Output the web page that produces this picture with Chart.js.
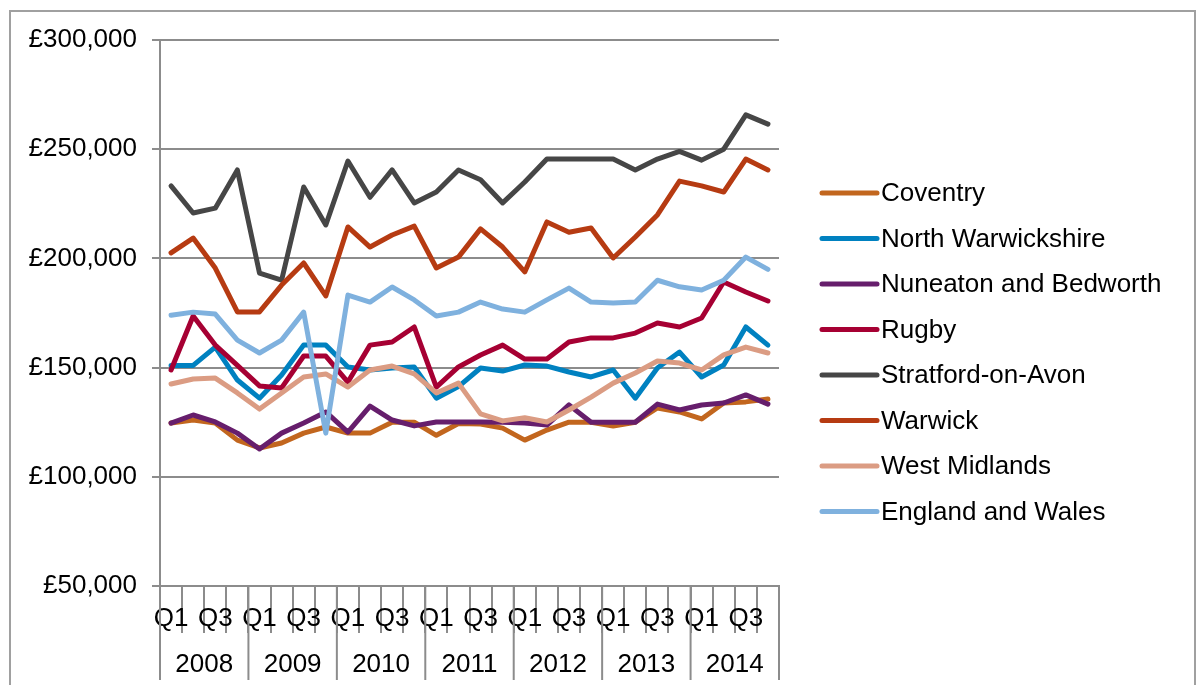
<!DOCTYPE html>
<html>
<head>
<meta charset="utf-8">
<script src="https://cdn.jsdelivr.net/npm/chart.js@4.4.0/dist/chart.umd.min.js"></script>
<style>
  body { margin: 0; background: #fff; }
  #frame {
    position: absolute;
    left: 9px;
    top: 10px;
    width: 1183px;
    height: 700px;
    border: 2px solid #a0a0a0;
  }
  #chart { position: absolute; left: 0; top: 0; }
</style>
</head>
<body>
<div id="frame"></div>
<canvas id="chart" width="1199" height="685"></canvas>
<script>
const quarters = [
  'Q1', 'Q2', 'Q3', 'Q4', 'Q1', 'Q2', 'Q3', 'Q4', 'Q1', 'Q2', 'Q3', 'Q4', 'Q1', 'Q2',
  'Q3', 'Q4', 'Q1', 'Q2', 'Q3', 'Q4', 'Q1', 'Q2', 'Q3', 'Q4', 'Q1', 'Q2', 'Q3', 'Q4',
];
const years = ['2008', '2009', '2010', '2011', '2012', '2013', '2014'];

const seriesNames = [
  'Coventry', 'North Warwickshire', 'Nuneaton and Bedworth', 'Rugby',
  'Stratford-on-Avon', 'Warwick', 'West Midlands', 'England and Wales',
];

const coventry = [124600, 126000, 124600, 116800, 113200, 115500, 120000, 122800, 120000, 120000, 125000, 125000, 119000, 124400,
  124200, 122300, 116800, 121400, 125000, 125000, 123300, 125000, 131500, 129700, 126500, 133800, 134300, 135600];
const northWarwickshire = [151000, 151000, 159400, 144300, 136000, 146600, 160300, 160300, 150300, 148900, 149800, 150300, 136000, 141300,
  149800, 148400, 151200, 150700, 148000, 145700, 148900, 136000, 149800, 157100, 145700, 151200, 168600, 160300];
const nuneaton = [124600, 128300, 125100, 120000, 112700, 120000, 124600, 129700, 120500, 132400, 126000, 123300, 125100, 125100,
  125100, 125000, 124600, 123700, 132900, 125000, 125000, 125000, 133300, 130600, 132900, 133800, 137500, 133300];
const rugby = [148900, 173600, 160300, 151000, 141600, 140700, 155300, 155300, 143400, 160300, 161700, 168600, 141100, 150300,
  155800, 160300, 153900, 153900, 161700, 163600, 163600, 165800, 170400, 168600, 172700, 189200, 184600, 180500];
const stratford = [233200, 220800, 223000, 240500, 193300, 190000, 232700, 215300, 244600, 228000, 240500, 225400, 230400, 240500,
  236000, 225400, 235000, 245500, 245500, 245500, 245500, 240500, 245500, 249000, 245000, 250000, 265700, 261500];
const warwick = [202500, 209300, 195600, 175500, 175500, 187800, 197900, 182800, 214400, 205200, 210700, 214800, 195600, 200600,
  213500, 205200, 193800, 216700, 212000, 213900, 200200, 209800, 219900, 235400, 233200, 230400, 245500, 240500];
const westMidlands = [142500, 144800, 145200, 138400, 131000, 138400, 145700, 147100, 141100, 148900, 150700, 147100, 138400, 142900,
  128800, 125600, 127000, 125100, 130600, 136500, 142900, 147500, 153000, 152100, 148900, 155800, 159400, 156700];
const englandWales = [174000, 175400, 174500, 162600, 156700, 162600, 175400, 120000, 183200, 180000, 186900, 181000, 173600, 175400,
  180000, 176800, 175400, 181000, 186400, 180000, 179600, 180000, 190000, 187000, 185500, 190000, 200600, 195000];

const seriesValues = [coventry, northWarwickshire, nuneaton, rugby, stratford, warwick, westMidlands, englandWales];
const seriesColors = ['#c2661e', '#0081c0', '#661e6c', '#a60033', '#464646', '#b63b12', '#db9c83', '#7fb1de'];

const FONT = { family: '"Liberation Sans", Arial, sans-serif', size: 26 };
const GRID = '#8c8c8c';

// year row under the quarter labels, with the long separators
const yearRow = {
  id: 'yearRow',
  afterDraw(chart) {
    const ctx = chart.ctx;
    const xs = chart.scales.x;
    const step = (xs.right - xs.left) / quarters.length;
    const top = chart.chartArea.bottom;
    ctx.save();
    ctx.strokeStyle = GRID;
    ctx.lineWidth = 2;
    for (let k = 0; k <= years.length; k++) {
      const x = xs.left + k * 4 * step;
      ctx.beginPath();
      ctx.moveTo(x, top);
      ctx.lineTo(x, top + 94);
      ctx.stroke();
    }
    ctx.fillStyle = '#000';
    ctx.font = `${FONT.size}px ${FONT.family}`;
    ctx.textAlign = 'center';
    ctx.textBaseline = 'middle';
    years.forEach((y, k) => {
      ctx.fillText(y, xs.left + (k * 4 + 2) * step, top + 79);
    });
    ctx.restore();
  },
};

// legend on the right, line samples like Excel
const sideLegend = {
  id: 'sideLegend',
  afterDraw(chart) {
    const ctx = chart.ctx;
    const x0 = chart.chartArea.right + 43;
    ctx.save();
    ctx.font = `${FONT.size}px ${FONT.family}`;
    ctx.textBaseline = 'middle';
    ctx.lineCap = 'round';
    ctx.lineWidth = 5;
    chart.data.datasets.forEach((ds, i) => {
      const y = 193 + i * 45.5;
      ctx.strokeStyle = ds.borderColor;
      ctx.beginPath();
      ctx.moveTo(x0, y);
      ctx.lineTo(x0 + 55, y);
      ctx.stroke();
      ctx.fillStyle = '#000';
      ctx.fillText(ds.label, x0 + 59, y + 1);
    });
    ctx.restore();
  },
};

new Chart(document.getElementById('chart'), {
  type: 'line',
  data: {
    labels: quarters,
    datasets: seriesNames.map((name, i) => ({
      label: name,
      data: seriesValues[i],
      borderColor: seriesColors[i],
      backgroundColor: seriesColors[i],
      borderWidth: 5,
      pointRadius: 0,
      tension: 0,
      fill: false,
      borderJoinStyle: 'round',
      borderCapStyle: 'round',
      order: seriesNames.length - i,
    })),
  },
  options: {
    responsive: false,
    animation: false,
    devicePixelRatio: 1,
    layout: { padding: { top: 40, right: 420, bottom: 0, left: 0 } },
    plugins: {
      legend: { display: false },
      tooltip: { enabled: false },
    },
    scales: {
      x: {
        offset: true,
        grid: {
          display: true,
          drawOnChartArea: false,
          offset: true,
          tickLength: 47,
          color: GRID,
          lineWidth: 2,
        },
        border: { display: true, color: GRID, width: 2 },
        ticks: {
          autoSkip: false,
          maxRotation: 0,
          padding: -30,
          color: '#000',
          font: FONT,
          callback: (v, i) => (i % 2 === 0 ? quarters[i] : ''),
        },
        afterFit: s => { s.height = 99; },
      },
      y: {
        min: 50000,
        max: 300000,
        ticks: {
          stepSize: 50000,
          padding: 15,
          color: '#000',
          font: FONT,
          callback: v => '£' + v.toLocaleString('en-GB'),
        },
        grid: { color: GRID, lineWidth: 2, tickLength: 8 },
        border: { color: GRID, width: 2 },
        afterFit: s => { s.width = 160; },
      },
    },
  },
  plugins: [yearRow, sideLegend],
});
</script>
</body>
</html>
